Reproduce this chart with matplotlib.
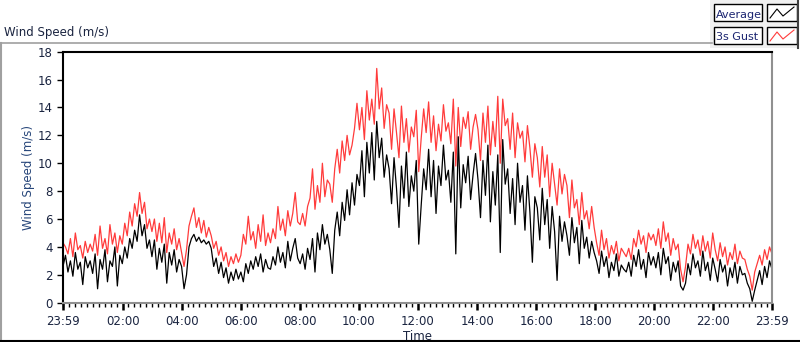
import numpy as np
import matplotlib
matplotlib.use("Agg")
import matplotlib.pyplot as plt
from matplotlib.patches import Rectangle

# 5-minute samples from 23:59 (m/s), 12 per hour
average = [
    2.6, 3.4, 2.2, 3.0, 1.9, 3.6, 2.4, 2.9, 1.3, 3.3, 2.5, 3.0,
    2.1, 3.5, 1.0, 3.1, 2.4, 3.8, 1.5, 3.0, 2.6, 4.0, 1.2, 3.4,
    2.8, 4.0, 3.2, 4.6, 3.9, 5.2, 4.4, 6.3, 4.8, 5.6, 3.9, 4.5,
    3.3, 4.5, 2.4, 3.9, 2.9, 4.2, 1.4, 3.6, 2.7, 3.8, 2.2, 3.1,
    2.6, 1.0, 2.0, 4.0, 4.6, 4.9, 4.4, 4.7, 4.3, 4.5, 4.2, 4.4,
    3.9, 2.6, 3.2, 2.1, 2.9, 1.8, 2.5, 1.4, 2.2, 1.6, 2.4, 1.7,
    2.2, 1.5, 2.8, 2.1, 3.0, 2.4, 3.3, 2.6, 3.5, 2.2, 3.1, 2.5,
    2.4, 3.3, 2.7, 4.0, 2.9, 3.6, 2.5, 4.4, 3.0, 3.9, 4.6, 3.2,
    2.8, 3.5, 2.4, 3.9, 3.1, 4.6, 2.2, 5.0, 3.8, 5.6, 4.2, 4.9,
    3.8, 2.1, 5.2, 6.5, 4.8, 7.2, 5.9, 8.1, 6.3, 8.6, 7.0, 9.2,
    8.4, 10.9, 7.6, 11.5, 9.3, 12.2, 8.8, 13.0, 10.4, 11.8, 9.0, 10.6,
    9.6, 7.1, 10.4, 8.2, 5.4, 9.8, 7.5, 10.8, 6.9, 9.1, 8.0, 10.2,
    4.2, 7.0, 9.6, 8.1, 11.0, 7.6, 10.2, 6.4, 9.8, 8.4, 11.3, 8.8,
    9.5, 7.2, 10.8, 3.5, 11.9, 6.8, 9.9, 8.6, 10.5, 7.4, 9.2, 10.7,
    8.8, 6.1, 10.2, 7.7, 11.3, 5.8, 9.4, 7.0, 10.6, 3.6, 11.7, 8.5,
    9.6, 6.4, 8.9, 5.6, 10.0, 7.2, 8.4, 5.2, 9.1, 6.5, 2.9, 7.6,
    6.8, 4.5, 8.2, 5.6, 7.4, 3.9, 6.9, 5.1, 1.6, 6.2, 4.4, 5.8,
    4.8, 3.4, 6.1, 4.3, 5.4, 2.8, 5.9, 3.9, 4.7, 3.2, 4.4, 3.6,
    3.0, 2.1, 3.7, 2.6, 3.3, 1.8, 2.9, 2.3, 3.5, 1.9, 2.7, 2.4,
    2.2, 2.9, 1.9, 3.4, 2.6, 3.8, 2.4, 3.1, 1.8, 3.6, 2.7, 3.3,
    2.5, 3.6, 2.0, 3.9, 2.8, 3.3, 1.6, 2.9, 2.2, 3.0, 1.2, 0.9,
    1.4, 2.8, 2.0, 3.5, 2.5, 3.0, 1.9, 3.7, 2.3, 2.9, 1.6, 3.2,
    2.4, 1.5, 3.1, 2.2, 2.7, 1.2, 2.5, 1.8, 2.9, 1.4, 2.6, 2.0,
    2.1, 1.4, 1.0, 0.1, 0.9, 1.6, 2.3, 1.3, 2.6, 1.8, 3.0, 2.4,
]
gust = [
    4.3, 4.0, 3.5, 4.6, 3.3, 5.0, 3.8, 4.1, 3.2, 4.4, 3.6, 4.2,
    3.7, 4.9, 3.4, 5.5, 3.9, 4.6, 3.5, 5.6, 4.2, 5.0, 3.6, 4.8,
    4.2, 5.7, 4.8, 6.5, 5.5, 7.1, 6.2, 7.9, 6.4, 7.2, 5.3, 6.0,
    5.1, 6.0, 4.4, 5.7, 4.3, 6.1, 3.6, 5.0, 4.2, 5.3, 3.8, 4.6,
    3.6, 2.6, 3.8, 5.5, 6.2, 6.8, 5.4, 6.1, 5.0, 5.9, 4.7, 5.4,
    4.8, 3.9, 4.4, 3.4, 4.0, 3.0, 3.6, 2.6, 3.3, 2.8, 3.5, 2.9,
    3.4, 4.9, 4.2, 6.2, 4.5, 5.1, 3.9, 5.6, 4.4, 6.3, 4.1, 5.0,
    4.3, 5.3, 4.6, 6.9, 5.2, 6.0, 4.8, 6.6, 5.5, 6.4, 7.9, 5.8,
    5.6, 6.4, 5.5, 6.9, 7.5, 9.6, 6.7, 8.4, 7.2, 10.0, 7.6, 8.8,
    8.5, 7.2, 9.6, 11.0, 9.3, 11.6, 10.2, 12.0, 10.6, 11.3, 12.5, 14.3,
    12.4, 14.0, 11.7, 15.2, 13.1, 14.6, 12.8, 16.8, 13.9, 15.4, 12.5, 14.2,
    13.6, 11.0, 13.9, 12.2, 10.4, 14.1, 11.5, 13.2, 10.8, 12.6, 11.9, 13.8,
    9.4, 11.8, 13.9, 12.2, 14.4, 11.5, 13.4, 10.9, 12.8, 11.6, 14.2, 12.3,
    12.9, 11.4, 14.6, 9.8, 14.0, 11.2, 13.3, 12.5, 13.7, 11.0, 12.6, 13.5,
    12.4, 10.2, 13.6, 11.5, 14.1, 10.6, 13.0, 11.2, 14.8, 10.0, 14.6, 12.7,
    13.2, 11.0, 13.6, 10.4, 12.9, 11.8, 12.3, 10.1, 12.7, 11.1, 9.0, 11.4,
    10.4, 8.3, 11.2, 9.0, 10.6, 7.6, 10.0, 8.5, 7.0, 9.6, 7.8, 9.2,
    8.4, 6.1, 8.8, 6.8, 7.4, 5.6, 7.9, 6.0, 6.6, 5.3, 6.9, 5.4,
    4.3, 3.4, 5.2, 3.8, 4.6, 3.2, 4.1, 3.5, 4.4, 3.0, 3.9, 3.6,
    3.3, 3.9, 3.1, 4.6, 4.0, 5.2, 4.2, 4.8, 3.6, 5.0, 4.5, 4.9,
    4.1, 5.3, 3.9, 5.8, 4.4, 5.0, 3.4, 4.6, 3.8, 4.2, 2.4, 1.5,
    2.6, 4.2, 3.5, 4.9, 3.9, 4.5, 3.4, 4.8, 3.7, 4.4, 3.2, 5.0,
    3.8, 3.0, 4.3, 3.3, 4.0, 2.7, 3.6, 3.1, 4.2, 2.8, 3.7, 3.2,
    3.1, 2.4, 1.9, 0.9, 2.2, 2.8, 3.4, 2.7, 3.8, 3.1, 4.0, 3.5,
]
# minutes after 23:59 for the tick labels
tick_minutes = [0, 121, 241, 361, 481, 601, 721, 841, 961, 1081, 1201, 1321, 1440]
tick_labels = ["23:59", "02:00", "04:00", "06:00", "08:00", "10:00", "12:00",
               "14:00", "16:00", "18:00", "20:00", "22:00", "23:59"]

minutes = np.linspace(0, 1440, len(average))
txt_col = "#1a2440"

fig = plt.figure(figsize=(8, 3.42), dpi=100)
fig.patch.set_facecolor("white")

# frame decorations drawn in pixel coordinates
deco = fig.add_axes([0, 0, 1, 1])
deco.set_xlim(0, 800)
deco.set_ylim(342, 0)
deco.axis("off")
deco.plot([0, 712], [42.5, 42.5], color="#a0a0a0", lw=1.2)
deco.plot([1, 1], [42.5, 342], color="#a0a0a0", lw=1.5)
deco.plot([0, 800], [341, 341], color="black", lw=1.5)
deco.add_patch(Rectangle((710, 0), 88, 48, facecolor="#f0f0f0", edgecolor="none"))
deco.plot([798, 798], [0, 48], color="#404040", lw=1.5)
deco.text(4, 36, "Wind Speed (m/s)", fontsize=8.5, color=txt_col, va="baseline")
for i, (name, col) in enumerate([("Average", "black"), ("3s Gust", "#ff3b3b")]):
    y0 = 4 + i * 23
    deco.add_patch(Rectangle((714, y0), 48, 17, facecolor="white", edgecolor="black", lw=1))
    deco.add_patch(Rectangle((767, y0), 30, 17, facecolor="white", edgecolor="black", lw=1))
    deco.text(716, y0 + 13.5, name, fontsize=8, color="#1a2470", va="baseline")
    deco.plot([770, 777, 783, 794], [y0 + 14, y0 + 5, y0 + 12, y0 + 3], color=col, lw=0.8)

ax = fig.add_axes([63 / 800, 1 - 302.7 / 342, 709 / 800, 251 / 342])
ax.plot(minutes, gust, color="#ff3b3b", lw=0.9)
ax.plot(minutes, average, color="black", lw=0.9)
ax.set_xlim(0, 1440)
ax.set_ylim(0, 18)

ax.set_yticks(np.arange(0, 19, 2))
ax.set_xticks(tick_minutes)
ax.set_xticklabels(tick_labels)
ax.set_xticks(np.arange(1, 1440, 12), minor=True)
ax.tick_params(axis="both", which="major", labelsize=8.5, labelcolor=txt_col, direction="out", length=4, width=1)
ax.tick_params(axis="x", which="major", length=5, width=1.8)
ax.tick_params(axis="x", which="minor", length=3, width=1)
ax.set_ylabel("Wind Speed (m/s)", fontsize=8.5, color="#27467a", labelpad=2)
ax.set_xlabel("Time", fontsize=8.5, color=txt_col, labelpad=2)
ax.spines["top"].set_color("black")
ax.spines["left"].set_color("black")
ax.spines["bottom"].set_color("#909090")
ax.spines["right"].set_color("#909090")
for s in ax.spines.values():
    s.set_linewidth(1.5)

fig.savefig("out.png", dpi=100)
